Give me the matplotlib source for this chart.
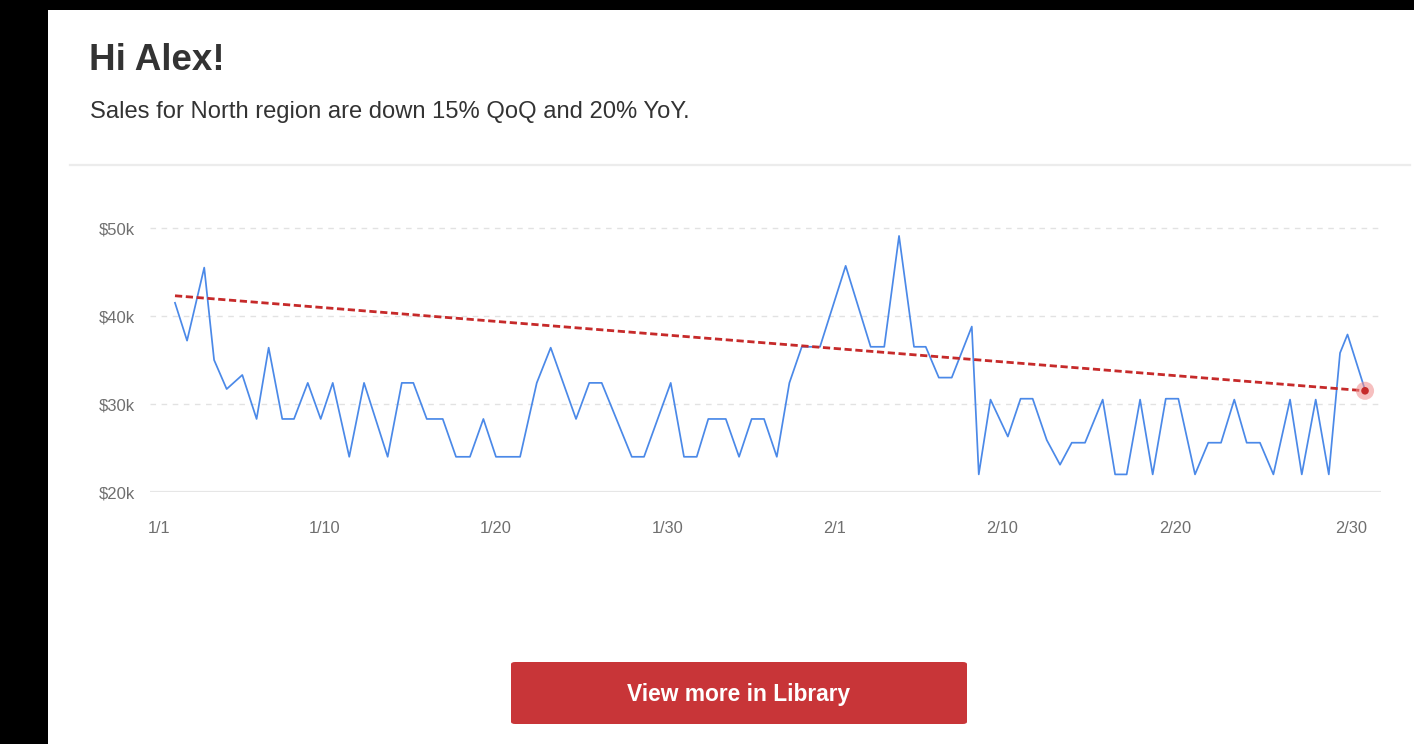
import matplotlib
matplotlib.use("Agg")
import matplotlib.pyplot as plt
from matplotlib.patches import Rectangle, FancyBboxPatch
from matplotlib.lines import Line2D

plt.rcParams['font.family'] = ['Liberation Sans', 'DejaVu Sans']

# ---------------- data ----------------
title = "Hi Alex!"
subtitle = "Sales for North region are down 15% QoQ and 20% YoY."
button_label = "View more in Library"

tick_labels = ["1/1", "1/10", "1/20", "1/30", "2/1", "2/10", "2/20", "2/30"]
tick_pos = [0.0, 9.71, 19.81, 29.94, 39.75, 49.57, 59.75, 70.11]

# x position of each observation (day units along the axis)
x_day = [0.94, 1.65, 2.66, 3.24, 3.98, 4.90, 5.74, 6.45, 7.25, 7.94,
         8.75, 9.51, 10.22, 11.19, 12.06, 13.45, 14.28, 14.96, 15.75, 16.69,
         17.47, 18.29, 19.08, 19.82, 21.24, 22.22, 23.04, 24.53, 25.31, 26.04,
         27.81, 28.53, 30.10, 30.88, 31.63, 32.31, 33.34, 34.12, 34.86, 35.59,
         36.34, 37.08, 37.81, 38.88, 40.39, 41.86, 42.66, 43.53, 44.41, 45.10,
         45.87, 46.63, 47.81, 48.22, 48.91, 49.93, 50.68, 51.39, 52.22, 53.00,
         53.69, 54.47, 55.51, 56.24, 56.92, 57.71, 58.45, 59.22, 59.96, 60.94,
         61.72, 62.47, 63.25, 63.98, 64.76, 65.55, 66.53, 67.22, 68.04, 68.81,
         69.47, 69.91, 70.94]
# sales in $k
sales_k = [41.5, 37.2, 45.5, 35.0, 31.7, 33.3, 28.3, 36.4, 28.3, 28.3,
           32.4, 28.3, 32.4, 24.0, 32.4, 24.0, 32.4, 32.4, 28.3, 28.3,
           24.0, 24.0, 28.3, 24.0, 24.0, 32.4, 36.4, 28.3, 32.4, 32.4,
           24.0, 24.0, 32.4, 24.0, 24.0, 28.3, 28.3, 24.0, 28.3, 28.3,
           24.0, 32.4, 36.5, 36.5, 45.7, 36.5, 36.5, 49.1, 36.5, 36.5,
           33.0, 33.0, 38.8, 22.0, 30.5, 26.3, 30.6, 30.6, 25.9, 23.1,
           25.6, 25.6, 30.5, 22.0, 22.0, 30.5, 22.0, 30.6, 30.6, 22.0,
           25.6, 25.6, 30.5, 25.6, 25.6, 22.0, 30.5, 22.0, 30.5, 22.0,
           35.8, 37.9, 31.6]

trend_k = [42.3, 31.5]          # trend line start / end value
y_ticks = [20, 30, 40, 50]

# ---------------- figure ----------------
W, H = 1414, 744
fig = plt.figure(figsize=(W / 100, H / 100), dpi=100, facecolor='black')

def fx(px):
    return px / W

def fy(py):
    return 1 - py / H

# white card
fig.add_artist(Rectangle((fx(48), 0), 1 - fx(48), fy(10), transform=fig.transFigure,
                         facecolor='white', edgecolor='none', zorder=0))

fig.text(fx(89), fy(70), title, fontsize=26.5, fontweight='bold', color='#333333',
         va='baseline', ha='left')
fig.text(fx(90), fy(118), subtitle, fontsize=17.1, color='#333333',
         va='baseline', ha='left')

# separator
fig.add_artist(Line2D([fx(70), fx(1410)], [fy(165), fy(165)], transform=fig.transFigure,
                      color='#ececec', linewidth=1.6))

# ---------------- chart ----------------
ax_left, ax_right = 150, 1381
ax_bottom, ax_top = 492, 219.2
ax = fig.add_axes([fx(ax_left), fy(ax_bottom), fx(ax_right) - fx(ax_left),
                   fy(ax_top) - fy(ax_bottom)])
ax.set_facecolor('none')
ax.set_xlim(-0.53, 71.88)
ax.set_ylim(20, 51)

for v in y_ticks[1:]:
    ax.axhline(v, color='#e2e2e2', linewidth=1.0, linestyle=(0, (4, 4)), zorder=1)
ax.axhline(y_ticks[0], color='#e6e6e6', linewidth=1.6, zorder=1)

ax.plot(x_day, sales_k, color='#4b89e8', linewidth=1.25, zorder=3, clip_on=False)

tx = [x_day[0], x_day[-1]]
ax.plot(tx, trend_k, color='#c62a2a', linewidth=2.0, linestyle=(0, (2.6, 1.3)),
        zorder=4, clip_on=False)
ax.scatter([tx[1]], [trend_k[1]], s=170, color='#f08c8c', alpha=0.55, zorder=5,
           edgecolors='none', clip_on=False)
ax.scatter([tx[1]], [trend_k[1]], s=30, color='#c62a2a', zorder=6,
           edgecolors='none', clip_on=False)

for s in ax.spines.values():
    s.set_visible(False)

ax.set_yticks(y_ticks)
ax.set_yticklabels(["$%dk" % v for v in y_ticks])
ax.set_xticks(tick_pos)
ax.set_xticklabels(tick_labels)
ax.tick_params(axis='y', length=0, pad=11, labelsize=12, labelcolor='#6f6f6f')
ax.tick_params(axis='x', length=0, pad=21, labelsize=11.8, labelcolor='#6f6f6f')

# ---------------- button ----------------
bx0, bx1, by0, by1 = 511, 967, 662, 724
fig.add_artist(FancyBboxPatch((fx(bx0), fy(by1)), fx(bx1) - fx(bx0), fy(by0) - fy(by1),
                              boxstyle="round,pad=0,rounding_size=0.003",
                              transform=fig.transFigure, facecolor='#c83538',
                              edgecolor='none'))
fig.text(fx((bx0 + bx1) / 2), fy(701), button_label, fontsize=16.4,
         fontweight='bold', color='white', ha='center', va='baseline')

fig.savefig("out.png", dpi=100, facecolor=fig.get_facecolor())
